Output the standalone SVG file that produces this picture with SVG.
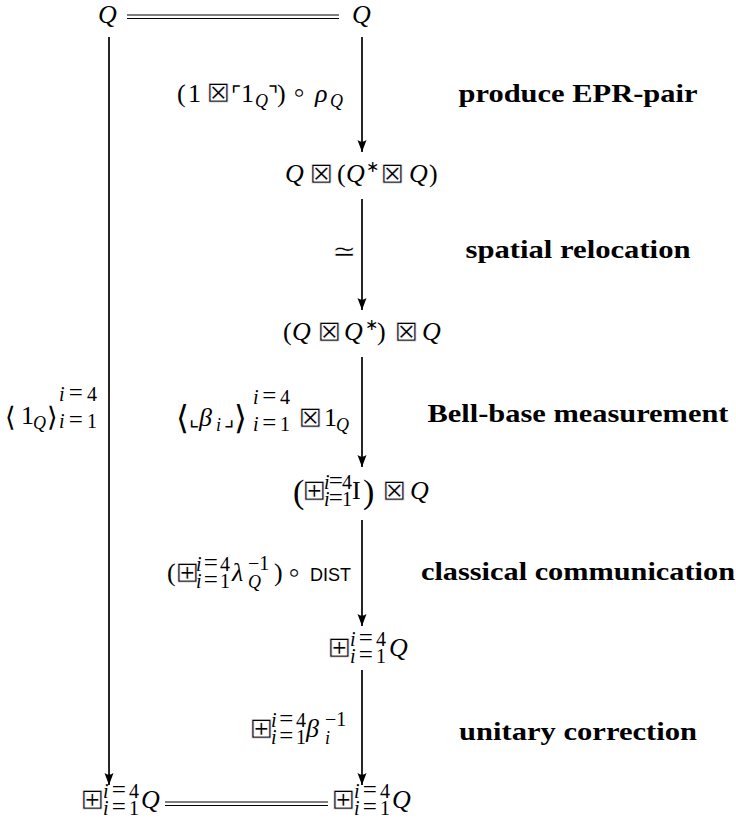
<svg xmlns="http://www.w3.org/2000/svg" width="736" height="830" viewBox="0 0 736 830">
<style>
text { fill: #000; }
.r { font-family: "Liberation Serif", "DejaVu Serif", serif; font-size: 26px; }
.i { font-family: "Liberation Serif", "DejaVu Serif", serif; font-style: italic; font-size: 26px; }
.si { font-family: "Liberation Serif", "DejaVu Serif", serif; font-style: italic; font-size: 18px; }
.sr { font-family: "Liberation Serif", "DejaVu Serif", serif; font-size: 20px; }
.eq { font-size: 25px; font-style: normal; }
.it { font-style: italic; }
.y { font-family: "DejaVu Sans", "DejaVu Serif", sans-serif; font-size: 22px; font-weight: 200; }
.op { font-family: "DejaVu Sans", "DejaVu Serif", sans-serif; font-size: 29px; stroke: #fff; stroke-width: 0.7; }
.opl { font-family: "DejaVu Sans", "DejaVu Serif", sans-serif; font-size: 29px; font-weight: 200; }
.ys { font-family: "DejaVu Sans", "DejaVu Serif", sans-serif; font-size: 16px; }
.big { font-family: "Liberation Serif", "DejaVu Serif", serif; font-size: 34px; }
.ang { font-family: "DejaVu Sans", "DejaVu Serif", sans-serif; font-size: 27px; font-weight: 200; }
.bigy { font-family: "DejaVu Sans", "DejaVu Serif", sans-serif; font-size: 33px; font-weight: 200; }
.sf { font-family: "Liberation Sans", "DejaVu Sans", sans-serif; font-size: 18px; }
.bd { font-family: "Liberation Serif", "DejaVu Serif", serif; font-weight: bold; font-size: 26px; text-anchor: middle; }
.ar { stroke: #000; stroke-width: 1.7; fill: none; }
.dl { stroke: #000; stroke-width: 1; fill: none; }
</style>
<defs>
<marker id="ah" viewBox="0 -5 12 10" refX="12" refY="0" markerWidth="12" markerHeight="10" markerUnits="userSpaceOnUse" orient="auto">
<path d="M12,0 L0,-4.5 Q3.5,0 0,4.5 Z" fill="#000"/>
</marker>
</defs>

<g id="connectors">
<line class="dl" x1="127" y1="15" x2="339" y2="15"/>
<line class="dl" x1="127" y1="18.5" x2="339" y2="18.5"/>
<line class="dl" x1="165" y1="802" x2="328" y2="802"/>
<line class="dl" x1="165" y1="805.5" x2="328" y2="805.5"/>
<line class="ar" x1="109" y1="37" x2="109" y2="785" marker-end="url(#ah)"/>
<line class="ar" x1="362" y1="37" x2="362" y2="152" marker-end="url(#ah)"/>
<line class="ar" x1="362" y1="199" x2="362" y2="310" marker-end="url(#ah)"/>
<line class="ar" x1="362" y1="357" x2="362" y2="467" marker-end="url(#ah)"/>
<line class="ar" x1="362" y1="520" x2="362" y2="626" marker-end="url(#ah)"/>
<line class="ar" x1="362" y1="670" x2="362" y2="785" marker-end="url(#ah)"/>
</g>

<g id="edge-labels">
<g id="label-epr">
<text class="r" x="177" y="102">(</text>
<text class="r" x="188" y="102">1</text>
<text class="op" x="206" y="102">⊠</text>
<text class="y" x="231" y="102">⌜</text>
<text class="r" x="241" y="102">1</text>
<text class="si" x="255" y="107">Q</text>
<text class="y" x="268" y="102">⌝</text>
<text class="r" x="277" y="102">)</text>
<text class="opl" x="290" y="102">∘</text>
<text class="i" x="315" y="102">ρ</text>
<text class="si" x="330" y="107">Q</text>
</g>
<g id="label-iso">
<text class="op" x="332" y="261">≃</text>
</g>
<g id="label-bell">
<text class="bigy" x="176" y="429">⟨</text>
<text class="y" x="189" y="426">⌞</text>
<text class="i" x="199" y="426">β</text>
<text class="si" x="216" y="431">i</text>
<text class="y" x="224" y="426">⌟</text>
<text class="bigy" x="234" y="429">⟩</text>
<text class="sr" x="253" y="404" textLength="37" lengthAdjust="spacing"><tspan class="it">i</tspan><tspan class="eq">=</tspan>4</text>
<text class="sr" x="253" y="431" textLength="37" lengthAdjust="spacing"><tspan class="it">i</tspan><tspan class="eq">=</tspan>1</text>
<text class="op" x="298" y="427">⊠</text>
<text class="r" x="324" y="426">1</text>
<text class="si" x="336" y="431">Q</text>
</g>
<g id="label-left">
<text class="ang" x="5" y="426">⟨</text>
<text class="r" x="21" y="424">1</text>
<text class="si" x="33" y="429">Q</text>
<text class="ang" x="47" y="426">⟩</text>
<text class="sr" x="59" y="401" textLength="38" lengthAdjust="spacing"><tspan class="it">i</tspan><tspan class="eq">=</tspan>4</text>
<text class="sr" x="59" y="428" textLength="38" lengthAdjust="spacing"><tspan class="it">i</tspan><tspan class="eq">=</tspan>1</text>
</g>
<g id="label-dist">
<text class="r" x="167" y="581">(</text>
<text class="op" x="175" y="582">⊞</text>
<text class="sr" x="196" y="571" textLength="34" lengthAdjust="spacing"><tspan class="it">i</tspan><tspan class="eq">=</tspan>4</text>
<text class="sr" x="196" y="588" textLength="34" lengthAdjust="spacing"><tspan class="it">i</tspan><tspan class="eq">=</tspan>1</text>
<text class="i" x="232" y="581">λ</text>
<text class="sr" x="248" y="570">−1</text>
<text class="si" x="248" y="588">Q</text>
<text class="r" x="274" y="581">)</text>
<text class="opl" x="285" y="582">∘</text>
<text class="sf" x="310" y="581">DIST</text>
</g>
<g id="label-corr">
<text class="op" x="249" y="738">⊞</text>
<text class="sr" x="271" y="727" textLength="35" lengthAdjust="spacing"><tspan class="it">i</tspan><tspan class="eq">=</tspan>4</text>
<text class="sr" x="271" y="744" textLength="35" lengthAdjust="spacing"><tspan class="it">i</tspan><tspan class="eq">=</tspan>1</text>
<text class="i" x="306" y="737">β</text>
<text class="sr" x="325" y="726">−1</text>
<text class="si" x="325" y="744">i</text>
</g>
</g>

<g id="node-q-top-left">
<text class="i" x="98" y="23">Q</text>
</g>
<g id="node-q-top-right">
<text class="i" x="352" y="23">Q</text>
</g>
<g id="node-q-qstar-q">
<text class="i" x="285" y="182">Q</text>
<text class="op" x="309" y="183">⊠</text>
<text class="r" x="337" y="182">(</text>
<text class="i" x="346" y="182">Q</text>
<text class="ys" x="366" y="172">∗</text>
<text class="op" x="380" y="183">⊠</text>
<text class="i" x="409" y="182">Q</text>
<text class="r" x="429" y="182">)</text>
</g>
<g id="node-qqstar-q">
<text class="r" x="283" y="340">(</text>
<text class="i" x="292" y="340">Q</text>
<text class="op" x="317" y="341">⊠</text>
<text class="i" x="344" y="340">Q</text>
<text class="ys" x="365" y="330">∗</text>
<text class="r" x="377" y="340">)</text>
<text class="op" x="394" y="341">⊠</text>
<text class="i" x="422" y="340">Q</text>
</g>
<g id="node-boxplus-i-q">
<text class="big" x="293" y="503">(</text>
<text class="op" x="302" y="500">⊞</text>
<text class="sr" x="324" y="489" textLength="28" lengthAdjust="spacing"><tspan class="it">i</tspan><tspan class="eq">=</tspan>4</text>
<text class="sr" x="324" y="506" textLength="28" lengthAdjust="spacing"><tspan class="it">i</tspan><tspan class="eq">=</tspan>1</text>
<text class="r" x="352" y="499">I</text>
<text class="big" x="363" y="503">)</text>
<text class="op" x="382" y="500">⊠</text>
<text class="i" x="410" y="499">Q</text>
</g>
<g id="node-boxplus-q">
<text class="op" x="327" y="657">⊞</text>
<text class="sr" x="350" y="646" textLength="36" lengthAdjust="spacing"><tspan class="it">i</tspan><tspan class="eq">=</tspan>4</text>
<text class="sr" x="350" y="663" textLength="36" lengthAdjust="spacing"><tspan class="it">i</tspan><tspan class="eq">=</tspan>1</text>
<text class="i" x="389" y="656">Q</text>
</g>
<g id="node-boxplus-q-bottom-left">
<text class="op" x="80" y="809">⊞</text>
<text class="sr" x="103" y="798" textLength="36" lengthAdjust="spacing"><tspan class="it">i</tspan><tspan class="eq">=</tspan>4</text>
<text class="sr" x="103" y="815" textLength="36" lengthAdjust="spacing"><tspan class="it">i</tspan><tspan class="eq">=</tspan>1</text>
<text class="i" x="141" y="808">Q</text>
</g>
<g id="node-boxplus-q-bottom-right">
<text class="op" x="331" y="809">⊞</text>
<text class="sr" x="354" y="798" textLength="36" lengthAdjust="spacing"><tspan class="it">i</tspan><tspan class="eq">=</tspan>4</text>
<text class="sr" x="354" y="815" textLength="36" lengthAdjust="spacing"><tspan class="it">i</tspan><tspan class="eq">=</tspan>1</text>
<text class="i" x="392" y="808">Q</text>
</g>

<g id="step-labels">
<text class="bd" x="578" y="102" textLength="239" lengthAdjust="spacingAndGlyphs">produce EPR-pair</text>
<text class="bd" x="578" y="258" textLength="225" lengthAdjust="spacingAndGlyphs">spatial relocation</text>
<text class="bd" x="578" y="422" textLength="301" lengthAdjust="spacingAndGlyphs">Bell-base measurement</text>
<text class="bd" x="578" y="580" textLength="314" lengthAdjust="spacingAndGlyphs">classical communication</text>
<text class="bd" x="578" y="740" textLength="238" lengthAdjust="spacingAndGlyphs">unitary correction</text>
</g>
</svg>
